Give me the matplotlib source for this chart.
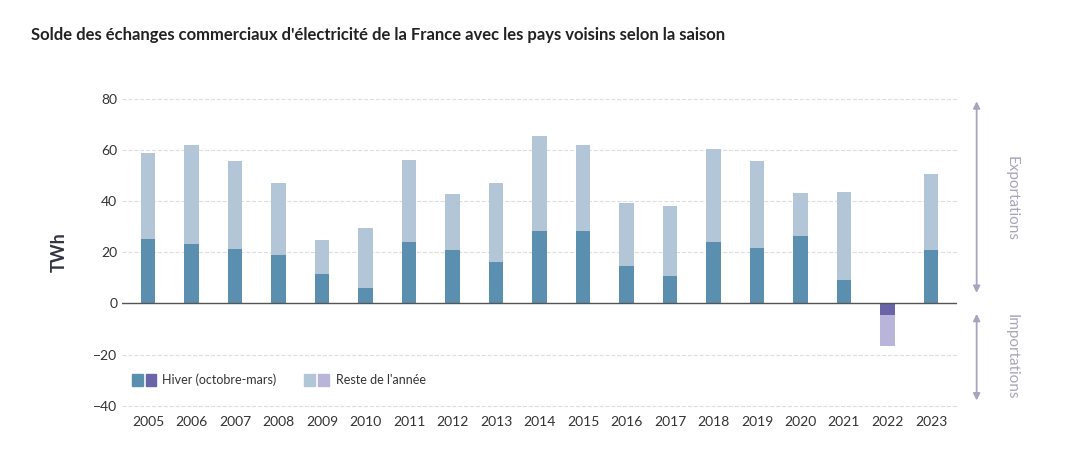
import matplotlib.pyplot as plt
from matplotlib.patches import Rectangle

years = [str(y) for y in range(2005, 2024)]
hiver = [25.1, 23.1, 21.2, 18.8, 11.4, 5.9, 23.9, 20.8, 16.1, 28.2, 28.2, 14.5, 10.6, 23.9, 21.6, 26.3, 9.0, -4.7, 20.8]
total = [58.8, 62.0, 55.7, 47.0, 24.7, 29.4, 56.0, 42.7, 47.0, 65.5, 62.0, 39.2, 38.0, 60.4, 55.7, 43.1, 43.5, -16.5, 50.6]
reste = [t - h for t, h in zip(total, hiver)]

C_HIV, C_RES = "#5b8fb0", "#b3c6d7"
C_HIV_IMP, C_RES_IMP = "#6a64a8", "#b9b5da"
GREY = "#a8a4bd"

plt.rcParams["font.family"] = ["Lato", "DejaVu Sans"]
fig = plt.figure(figsize=(10.9, 4.67), dpi=100)
ax = fig.add_axes([0.112, 0.12, 0.766, 0.68])

x = range(len(years))
c_h = [C_HIV if h >= 0 else C_HIV_IMP for h in hiver]
c_r = [C_RES if h >= 0 else C_RES_IMP for h in hiver]
ax.bar(x, hiver, width=0.33, color=c_h, zorder=3)
ax.bar(x, reste, bottom=hiver, width=0.33, color=c_r, zorder=3)

ax.set_xlim(-0.6, len(years) - 0.4)
ax.set_ylim(-42, 82)
ax.set_yticks(range(-40, 81, 20))
ax.set_xticks(list(x))
ax.set_xticklabels(years)
ax.tick_params(length=0, labelsize=10, colors="#333333")
ax.grid(axis="y", color="#dddddd", linestyle="--", linewidth=0.8, zorder=0)
ax.axhline(0, color="#555555", linewidth=1, zorder=4)
for s in ax.spines.values():
    s.set_visible(False)
ax.set_ylabel("TWh", fontsize=13, fontweight="bold", color="#333344", labelpad=18)

fig.text(0.028, 0.915, "Solde des échanges commerciaux d'électricité de la France avec les pays voisins selon la saison",
         fontsize=12, fontweight="bold", color="#222222")

# legend with paired swatches
def swatch(xf, yf, c1, c2):
    fig.patches.append(Rectangle((xf, yf), 0.010, 0.026, color=c1, transform=fig.transFigure))
    fig.patches.append(Rectangle((xf + 0.0125, yf), 0.010, 0.026, color=c2, transform=fig.transFigure))

swatch(0.121, 0.173, C_HIV, C_HIV_IMP)
fig.text(0.149, 0.186, "Hiver (octobre-mars)", fontsize=9, va="center", color="#333333")
swatch(0.279, 0.173, C_RES, C_RES_IMP)
fig.text(0.308, 0.186, "Reste de l'année", fontsize=9, va="center", color="#333333")

# right side annotations
ax2 = fig.add_axes([0.88, 0.12, 0.08, 0.68])
ax2.set_ylim(ax.get_ylim())
ax2.set_xlim(0, 1)
ax2.axis("off")
ax2.annotate("", xy=(0.2, 80), xytext=(0.2, 3), arrowprops=dict(arrowstyle="<|-|>", color=GREY, lw=1.3))
ax2.annotate("", xy=(0.2, -3), xytext=(0.2, -39), arrowprops=dict(arrowstyle="<|-|>", color=GREY, lw=1.3))
ax2.text(0.6, 41, "Exportations", rotation=270, ha="center", va="center", fontsize=11, color=GREY)
ax2.text(0.6, -21, "Importations", rotation=270, ha="center", va="center", fontsize=11, color=GREY)

fig.savefig("out.png", dpi=100)
